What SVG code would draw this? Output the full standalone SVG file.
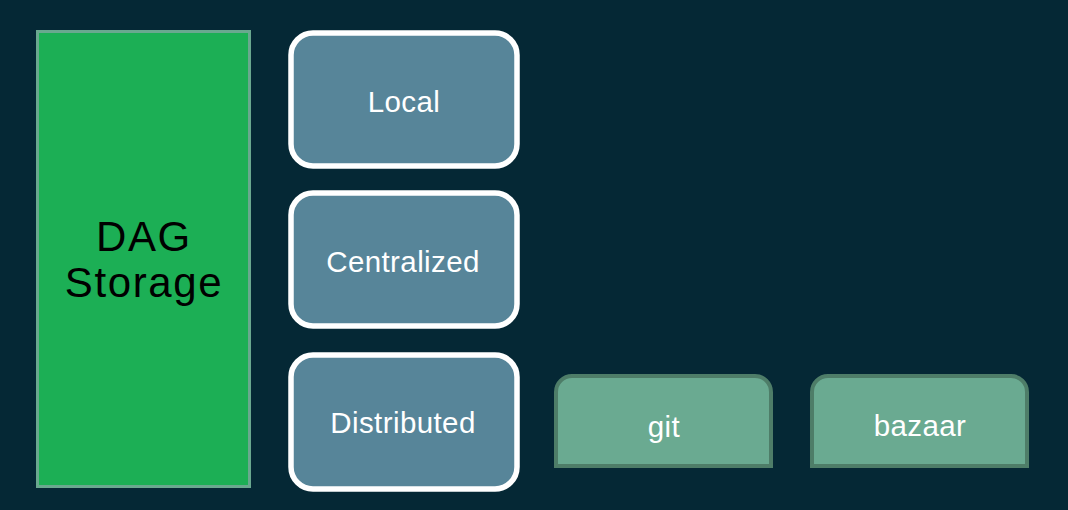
<svg xmlns="http://www.w3.org/2000/svg" width="1068" height="510" viewBox="0 0 1068 510">
<style>
.bg{fill:#052835}
.cat{fill:#578599;stroke:#ffffff;stroke-width:5.5}
.cat-t{font-family:"Liberation Sans",Arial,sans-serif;font-size:29.5px;fill:#ffffff;text-anchor:middle;letter-spacing:0.4px}
.tool{fill:#6aaa91;stroke:#4e7d68;stroke-width:4}
.tool-t{font-family:"Liberation Sans",Arial,sans-serif;font-size:29.5px;fill:#ffffff;text-anchor:middle;letter-spacing:0.4px}
.dag{fill:#1caf55;stroke:#6aa88f;stroke-width:3}
.dag-t{font-family:"Liberation Sans",Arial,sans-serif;font-size:42px;fill:#000000;text-anchor:middle;letter-spacing:1.6px}
</style>
<rect class="bg" x="0" y="0" width="1068" height="510"/>
<g id="dag-storage">
<rect class="dag" x="37.5" y="31.5" width="212" height="455"/>
<text class="dag-t" x="144" y="251">DAG</text>
<text class="dag-t" x="144" y="297">Storage</text>
</g>
<g id="local">
<rect class="cat" x="291" y="33" width="226" height="133" rx="22"/>
<text class="cat-t" x="404" y="112">Local</text>
</g>
<g id="centralized">
<rect class="cat" x="291" y="193" width="226" height="133" rx="22"/>
<text class="cat-t" x="403" y="272">Centralized</text>
</g>
<g id="distributed">
<rect class="cat" x="291" y="355" width="226" height="134" rx="22"/>
<text class="cat-t" x="403" y="433">Distributed</text>
</g>
<g id="git">
<path class="tool" d="M556,466 V392 A16,16 0 0 1 572,376 H755 A16,16 0 0 1 771,392 V466 Z"/>
<text class="tool-t" x="664" y="437">git</text>
</g>
<g id="bazaar">
<path class="tool" d="M812,466 V392 A16,16 0 0 1 828,376 H1011 A16,16 0 0 1 1027,392 V466 Z"/>
<text class="tool-t" x="920" y="436">bazaar</text>
</g>
<g id="connectors"></g>
</svg>
